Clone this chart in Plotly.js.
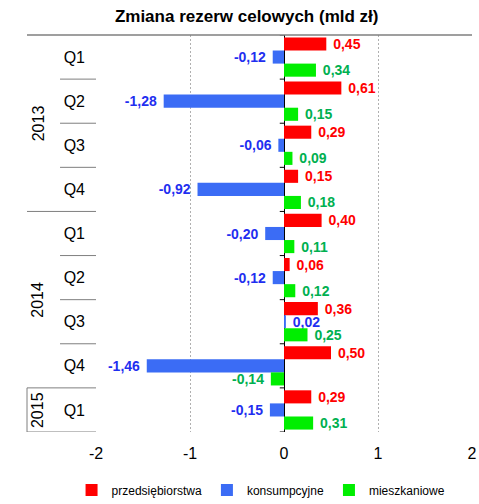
<!DOCTYPE html>
<html>
<head>
<meta charset="utf-8">
<script src="https://cdn.plot.ly/plotly-3.0.1.min.js"></script>
<style>html,body{margin:0;padding:0;background:#fff;}#chart{width:479px;height:504px;}</style>
</head>
<body>
<div id="chart"></div>
<script>
const categories = ['2013 Q1','2013 Q2','2013 Q3','2013 Q4','2014 Q1','2014 Q2','2014 Q3','2014 Q4','2015 Q1'];
const quarterLabels = ['Q1','Q2','Q3','Q4','Q1','Q2','Q3','Q4','Q1'];
const years = ['2013','2014','2015'];
const yearCounts = [4, 4, 1];
const seriesNames = ['przedsiębiorstwa', 'konsumpcyjne', 'mieszkaniowe'];
const przedsiebiorstwa = [0.45, 0.61, 0.29, 0.15, 0.40, 0.06, 0.36, 0.50, 0.29];
const konsumpcyjne = [-0.12, -1.28, -0.06, -0.92, -0.20, -0.12, 0.02, -1.46, -0.15];
const mieszkaniowe = [0.34, 0.15, 0.09, 0.18, 0.11, 0.12, 0.25, -0.14, 0.31];
const xTickVals = [-2, -1, 0, 1, 2];

const barColors = ['#ff0000', '#3b6cf5', '#00ee00'];
const textColors = ['#ff0000', '#1f2ff0', '#00b050'];
const FONT = 'Arial, "Liberation Sans", sans-serif';

const fmt = v => v.toFixed(2).replace('.', ',');
const pad = v => v >= 0 ? '\u00a0' + fmt(v) : fmt(v) + '\u00a0';

const seriesData = [przedsiebiorstwa, konsumpcyjne, mieszkaniowe];
const traces = seriesData.map((vals, i) => ({
  type: 'bar',
  orientation: 'h',
  name: seriesNames[i],
  y: categories,
  x: vals,
  marker: {color: barColors[i]},
  text: vals.map(pad),
  texttemplate: '%{text}',
  textposition: 'outside',
  constraintext: 'none',
  cliponaxis: false,
  textfont: {family: FONT, size: 14, color: textColors[i], weight: 'bold'},
  hoverinfo: 'none'
}));

// decorative separators of the category axis
const yearSepX = -0.1835, qSepX = -0.0957;
const shapes = [];
const yearBoundaries = [];
let acc = 0;
yearCounts.forEach(c => { acc += c; yearBoundaries.push(acc); });
for (let i = 1; i < categories.length; i++) {
  const isYear = yearBoundaries.includes(i);
  shapes.push({type: 'line', xref: 'paper', yref: 'y', x0: isYear ? yearSepX : qSepX, x1: 0,
    y0: i - 0.5, y1: i - 0.5, line: {color: '#7f7f7f', width: 1}});
}
for (let i = 0; i <= categories.length; i++) {
  shapes.push({type: 'line', xref: 'x', yref: 'y', x0: -0.045, x1: 0, y0: i - 0.5, y1: i - 0.5,
    line: {color: '#000', width: 1}});
}
shapes.push({type: 'line', xref: 'paper', yref: 'paper', x0: yearSepX, x1: 1, y0: 1, y1: 1,
  line: {color: '#7f7f7f', width: 1.5}});
shapes.push({type: 'line', xref: 'paper', yref: 'y', x0: yearSepX, x1: 0,
  y0: categories.length - 0.5, y1: categories.length - 0.5, line: {color: '#7f7f7f', width: 1}});
shapes.push({type: 'line', xref: 'paper', yref: 'y', x0: yearSepX, x1: yearSepX,
  y0: categories.length - 0.5 - yearCounts[yearCounts.length - 1], y1: categories.length - 0.5,
  line: {color: '#7f7f7f', width: 1}});

const annotations = [];
let start = 0;
years.forEach((yr, k) => {
  const center = start + (yearCounts[k] - 1) / 2;
  annotations.push({text: yr, xref: 'paper', yref: 'y', x: -0.154, y: center,
    textangle: -90, showarrow: false, font: {family: FONT, size: 16, color: '#000'},
    xanchor: 'center', yanchor: 'middle'});
  start += yearCounts[k];
});

const layout = {
  width: 479, height: 504,
  margin: {l: 96, r: 7, t: 35, b: 72},
  paper_bgcolor: '#fff', plot_bgcolor: '#fff',
  separators: ', ',
  font: {family: FONT, color: '#000'},
  title: {text: '<b>Zmiana rezerw celowych (mld zł)</b>', font: {family: FONT, size: 17, color: '#000'},
    x: 0.515, xref: 'container', xanchor: 'center', y: 0.968, yref: 'container', yanchor: 'middle'},
  barmode: 'group',
  bargap: 0.11,
  bargroupgap: 0,
  showlegend: true,
  legend: {orientation: 'h', x: 0.545, xref: 'container', xanchor: 'center', y: 0.028, yref: 'container', yanchor: 'middle',
    font: {family: FONT, size: 12, color: '#000'}, itemwidth: 30, tracegroupgap: 0},
  xaxis: {range: [-2, 2], tickvals: xTickVals, ticktext: xTickVals.map(String),
    showgrid: true, gridcolor: '#b0b0b0', griddash: '2px,2px', gridwidth: 1,
    zeroline: true, zerolinecolor: '#000', zerolinewidth: 1,
    showline: false, ticks: '', ticklabelstandoff: 10, tickfont: {family: FONT, size: 16, color: '#000'}, fixedrange: true},
  yaxis: {type: 'category', range: [categories.length - 0.5, -0.5], tickmode: 'array',
    tickvals: categories, ticktext: quarterLabels, showgrid: false, zeroline: false, showline: false,
    ticks: '', ticklabelstandoff: 10, tickfont: {family: FONT, size: 16, color: '#000'}, fixedrange: true},
  shapes: shapes,
  annotations: annotations
};

Plotly.newPlot('chart', traces, layout, {displayModeBar: false, staticPlot: true});
</script>
</body>
</html>
